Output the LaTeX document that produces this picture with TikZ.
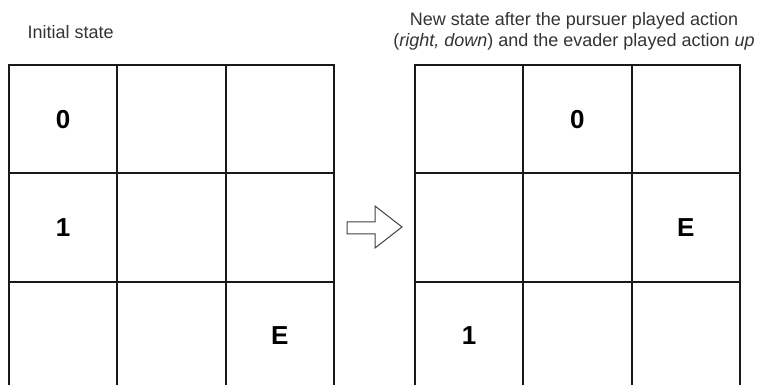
\documentclass[tikz,border=0pt]{standalone}
\usepackage{fontspec}
\setmainfont{Liberation Sans}
\usetikzlibrary{positioning}

\begin{document}
\begin{tikzpicture}[x=1pt, y=-1pt,
    cell/.style={draw=black!90, line width=2pt, minimum width=108.3pt,
                 minimum height=108pt, inner sep=0pt},
    piece/.style={font=\fontsize{26}{26}\selectfont\bfseries, text=black},
    caption/.style={font=\fontsize{18}{21}\selectfont, text=black!80, align=center}]
  \useasboundingbox (0,0) rectangle (764,385);
  % initial state grid
  \foreach \r in {1,2,3}{
    \foreach \c in {1,2,3}{
      \node[cell] (L\r\c) at ({9+108.3*(\c-0.5)},{65.5+108*(\r-0.5)}) {};
    }}
  % new state grid
  \foreach \r in {1,2,3}{
    \foreach \c in {1,2,3}{
      \node[cell] (R\r\c) at ({415+108.3*(\c-0.5)},{65.5+108*(\r-0.5)}) {};
    }}
  % pieces
  \node[piece] (lzero) at (L11) {0};
  \node[piece] (lone) at (L21) {1};
  \node[piece] (leva) at (L33) {E};
  \node[piece] (rzero) at (R12) {0};
  \node[piece] (rone) at (R31) {1};
  \node[piece] (reva) at (R23) {E};
  % captions
  \node[caption, anchor=west] (initcap) at (24,32) {Initial state};
  \node[caption] (newcap) at (574,31) {New state after the pursuer played action\\
    (\textit{right, down}) and the evader played action \textit{up}};
  % block arrow between the grids
  \draw[line width=1pt, black!75, line join=miter]
    (347,222) -- (375,222) -- (375,206) -- (402,227) -- (375,248)
    -- (375,234) -- (347,234) -- cycle;
\end{tikzpicture}
\end{document}
